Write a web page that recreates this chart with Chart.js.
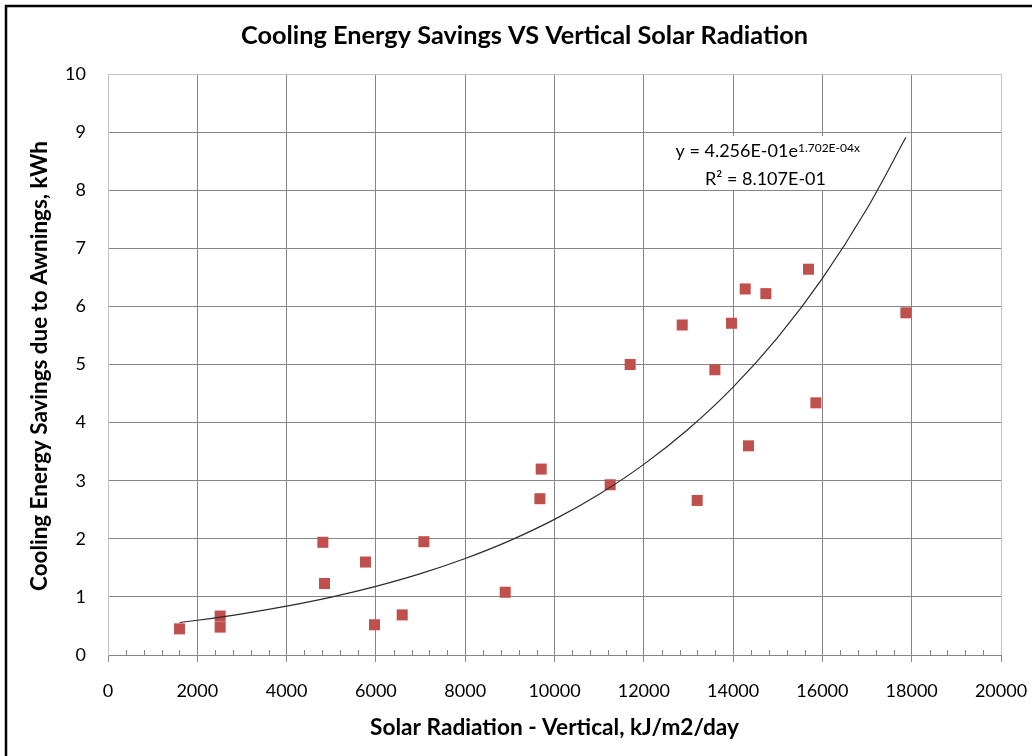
<!DOCTYPE html>
<html>
<head>
<meta charset="utf-8">
<script src="https://cdn.jsdelivr.net/npm/chart.js@4.4.1/dist/chart.umd.min.js"></script>
<style>
html,body{margin:0;padding:0;background:#fff;}
#wrap{width:1032px;height:756px;position:relative;}
canvas{display:block;}
</style>
</head>
<body>
<div id="wrap"><canvas id="c" width="1032" height="756"></canvas></div>
<script>
// ---- data ----
const solarRadiation = [1601, 2512, 2512, 4812, 4849, 5767, 5969, 6589, 7075, 8896, 9673, 9702, 11247, 11695, 12860, 13196, 13592, 13964, 14271, 14345, 14734, 15689, 15854, 17870];
const coolingSavings = [0.45, 0.67, 0.48, 1.94, 1.23, 1.60, 0.52, 0.69, 1.95, 1.08, 2.69, 3.20, 2.93, 5.00, 5.68, 2.66, 4.91, 5.71, 6.30, 3.60, 6.22, 6.64, 4.34, 5.89];
// exponential trend line
const trendX = [1601, 2000, 3000, 4000, 5000, 6000, 7000, 8000, 9000, 10000, 11000, 12000, 13000, 14000, 15000, 16000, 17000, 17870];
const trendY = [0.559, 0.598, 0.709, 0.841, 0.997, 1.182, 1.401, 1.661, 1.969, 2.334, 2.768, 3.281, 3.890, 4.611, 5.467, 6.482, 7.684, 8.91];
const xTickValues = [0, 2000, 4000, 6000, 8000, 10000, 12000, 14000, 16000, 18000, 20000];
const yTickValues = [0, 1, 2, 3, 4, 5, 6, 7, 8, 9, 10];
const xMinorStep = 400;

const chartTitle = 'Cooling Energy Savings VS Vertical Solar Radiation';
const xAxisTitle = 'Solar Radiation - Vertical, kJ/m2/day';
const yAxisTitle = 'Cooling Energy Savings due to Awnings, kWh';
const eqMain = 'y = 4.256E-01e';
const eqSup = '1.702E-04x';
const eqR2 = 'R\u00B2 = 8.107E-01';

const FONT = 'Lato, "Open Sans", "DejaVu Sans", sans-serif';
const GRID = '#868686';
const LIGHT = '#c3c3c3';

// choose a font size so the text spans the given width
function fitFont(ctx, text, width, weight) {
  ctx.font = weight + ' 20px ' + FONT;
  const w = ctx.measureText(text).width;
  const size = 20 * width / w;
  return weight + ' ' + size.toFixed(2) + 'px ' + FONT;
}

const decor = {
  id: 'decor',
  beforeDatasetsDraw(chart) {
    const ctx = chart.ctx;
    ctx.save();
    ctx.fillStyle = '#ffffff';
    ctx.fillRect(667, 136, 201, 54);
    const xs = chart.scales.x;
    const bottom = chart.chartArea.bottom;
    ctx.strokeStyle = GRID;
    ctx.lineWidth = 1;
    ctx.beginPath();
    for (let v = xs.min; v <= xs.max; v += xMinorStep) {
      if (v % 2000 === 0) continue;
      const px = Math.round(xs.getPixelForValue(v)) + 0.5;
      ctx.moveTo(px, bottom);
      ctx.lineTo(px, bottom - 5);
    }
    ctx.stroke();
    ctx.restore();
  },
  afterDraw(chart) {
    const ctx = chart.ctx;
    const ca = chart.chartArea;
    ctx.save();
    ctx.fillStyle = '#000';
    ctx.textAlign = 'center';
    ctx.textBaseline = 'middle';
    // title
    ctx.font = fitFont(ctx, chartTitle, 567, 'bold');
    ctx.fillText(chartTitle, 524.5, 36);
    // x axis title
    ctx.font = fitFont(ctx, xAxisTitle, 369, 'bold');
    ctx.fillText(xAxisTitle, (ca.left + ca.right) / 2, 728);
    // y axis title
    ctx.save();
    ctx.translate(40, 366);
    ctx.rotate(-Math.PI / 2);
    ctx.font = fitFont(ctx, yAxisTitle, 450, 'bold');
    ctx.fillText(yAxisTitle, 0, 0);
    ctx.restore();
    // equation
    ctx.textBaseline = 'alphabetic';
    ctx.textAlign = 'left';
    ctx.font = '18px ' + FONT;
    const wMain = ctx.measureText(eqMain).width;
    ctx.font = '12px ' + FONT;
    const wSup = ctx.measureText(eqSup).width;
    const x0 = 767.7 - (wMain + wSup) / 2;
    ctx.font = '18px ' + FONT;
    ctx.fillText(eqMain, x0, 157);
    ctx.font = '12px ' + FONT;
    ctx.fillText(eqSup, x0 + wMain, 151.5);
    ctx.font = '18px ' + FONT;
    ctx.textAlign = 'center';
    ctx.fillText(eqR2, 765.5, 185);
    // outer frame
    ctx.strokeStyle = '#000';
    ctx.lineWidth = 2.5;
    ctx.strokeRect(6, 6, 1100, 900);
    ctx.restore();
  }
};

new Chart(document.getElementById('c'), {
  type: 'scatter',
  data: {
    datasets: [
      {
        label: 'Trend',
        data: trendX.map((x, i) => ({ x: x, y: trendY[i] })),
        showLine: true,
        borderColor: '#2b2b2b',
        borderWidth: 1.2,
        pointRadius: 0,
        cubicInterpolationMode: 'monotone',
        fill: false,
        order: 0
      },
      {
        label: 'Savings',
        data: solarRadiation.map((x, i) => ({ x: x, y: coolingSavings[i] })),
        pointStyle: 'rect',
        pointRadius: 7.8,
        backgroundColor: '#C0504D',
        borderWidth: 0,
        order: 1
      }
    ]
  },
  options: {
    responsive: false,
    animation: false,
    devicePixelRatio: 1,
    layout: { padding: { top: 74, right: 31, left: 0, bottom: 0 } },
    plugins: { legend: { display: false }, tooltip: { enabled: false }, title: { display: false } },
    scales: {
      x: {
        type: 'linear',
        min: 0, max: 20000,
        afterBuildTicks: s => { s.ticks = xTickValues.map(v => ({ value: v })); },
        afterFit: s => { s.height = 101; s.paddingLeft = 0; s.paddingRight = 0; },
        grid: {
          color: c => (c.tick && (c.tick.value === 20000 || c.tick.value === 0)) ? LIGHT : GRID,
          lineWidth: 1,
          drawTicks: true,
          tickLength: 7,
          tickColor: GRID
        },
        border: { color: GRID, width: 1 },
        ticks: {
          font: { family: FONT, size: 18 },
          color: '#000',
          padding: 18,
          maxRotation: 0,
          autoSkip: false,
          callback: v => String(v)
        }
      },
      y: {
        type: 'linear',
        min: 0, max: 10,
        afterBuildTicks: s => { s.ticks = yTickValues.map(v => ({ value: v })); },
        afterFit: s => { s.width = 108; s.paddingTop = 0; s.paddingBottom = 0; },
        grid: {
          color: c => (c.tick && c.tick.value === 10) ? LIGHT : GRID,
          lineWidth: 1,
          drawTicks: false
        },
        border: { color: LIGHT, width: 1 },
        ticks: {
          font: { family: FONT, size: 18 },
          color: '#000',
          padding: 22,
          autoSkip: false,
          callback: v => String(v)
        }
      }
    }
  },
  plugins: [decor]
});
</script>
</body>
</html>
